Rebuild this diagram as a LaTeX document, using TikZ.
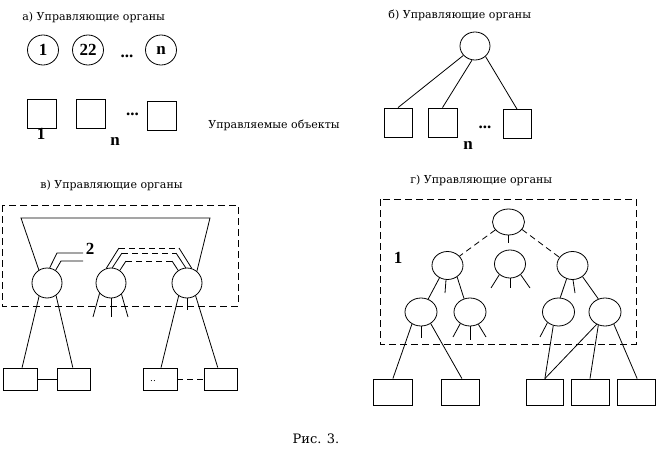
\documentclass[tikz,border=0pt]{standalone}
\usepackage{fontspec}
\setmainfont{DejaVu Serif}
\newfontfamily\labfont{Liberation Serif}
\usetikzlibrary{shapes.geometric,calc}
\begin{document}
\begin{tikzpicture}[x=1pt,y=-1pt,line width=0.8pt,
  org/.style={draw,ellipse,inner sep=0pt,minimum width=30,minimum height=28},
  obj/.style={draw,rectangle,inner sep=0pt},
  ttl/.style={anchor=west,inner sep=0pt,font=\fontsize{11}{13}\selectfont},
  lab/.style={inner sep=0pt,font=\labfont\bfseries\fontsize{17}{19}\selectfont},
  dbox/.style={draw,dash pattern=on 7pt off 4pt},
  dline/.style={dash pattern=on 6pt off 4pt}]
\useasboundingbox (0,0) rectangle (656,452);
% ---------- panel a
\node[ttl] (ta) at (22,17) {а) Управляющие органы};
\node[org,lab,minimum width=31,minimum height=30] (a1) at (43,50) {1};
\node[org,lab,minimum width=31,minimum height=30] (a2) at (88,50) {22};
\node[lab] (adots) at (127,56) {...};
\node[org,lab,minimum width=31,minimum height=30] (an) at (161,50) {n};
\node[obj,minimum width=29,minimum height=29] (s1) at (41.5,113.5) {};
\node[obj,minimum width=29,minimum height=29] (s2) at (91,113.5) {};
\node[obj,minimum width=29,minimum height=29] (s3) at (162,116) {};
\node[lab] (sdots) at (132.5,114) {...};
\node[lab] (sl1) at (41,134) {1};
\node[lab] (sln) at (115,141) {n};
\node[ttl] (uo) at (208,125) {Управляемые объекты};
% ---------- panel b
\node[ttl] (tb) at (388,15) {б) Управляющие органы};
\node[org] (b0) at (475,46) {};
\node[obj,minimum width=28,minimum height=29] (b1) at (398,122.5) {};
\node[obj,minimum width=29,minimum height=29] (b2) at (442.5,122.5) {};
\node[obj,minimum width=28,minimum height=29] (b3) at (517,124) {};
\node[lab] (bdots) at (485,127) {...};
\node[lab] (bn) at (468,145) {n};
\draw (b0.219) -- (b1.north);
\draw (b0.258) -- (b2.north);
\draw (b0.315) -- (b3.north);
% ---------- panel v
\node[ttl] (tv) at (40,185) {в) Управляющие органы};
\draw[dbox] (2,205) rectangle (238,306);
\node[org,minimum width=30,minimum height=30] (vL) at (47,283) {};
\node[org,minimum width=30,minimum height=30] (vM) at (111,283) {};
\node[org,minimum width=30,minimum height=30] (vR) at (187,283) {};
\coordinate (tl) at (21,218);
\coordinate (tr) at (210,218);
\draw (vL.122) -- (tl) -- (tr) -- (vR.50);
\coordinate (p1) at (57,253); \coordinate (p2) at (83,253);
\coordinate (p3) at (61,261); \coordinate (p4) at (83,261);
\draw (vL.80) -- (p1) -- (p2);
\draw (vL.56) -- (p3) -- (p4);
\node[lab] (n2) at (90,249) {2};
\coordinate (o1) at (119,248); \coordinate (o2) at (179,248);
\coordinate (m1) at (122,253); \coordinate (m2) at (176,253);
\coordinate (i1) at (126,261); \coordinate (i2) at (172,261);
\draw (vM.108) -- (o1); \draw[dline] (o1) -- (o2); \draw (o2) -- (vR.72);
\draw (vM.85) -- (m1); \draw[dline] (m1) -- (m2); \draw (m2) -- (vR.95);
\draw (vM.55) -- (i1); \draw[dline] (i1) -- (i2); \draw (i2) -- (vR.125);
\coordinate (ms1) at (93,317); \coordinate (ms2) at (111,317); \coordinate (ms3) at (128,317);
\draw (vM.222) -- (ms1);
\draw (vM.270) -- (ms2);
\draw (vM.313) -- (ms3);
\coordinate (rs) at (187,310);
\draw (vR.270) -- (rs);
\node[obj,minimum width=34,minimum height=22] (v1) at (20,379) {};
\node[obj,minimum width=33,minimum height=22] (v2) at (73.5,379) {};
\node[obj,minimum width=34,minimum height=22] (v3) at (160,379) {};
\node[obj,minimum width=33,minimum height=22] (v4) at (220.5,379) {};
\node[inner sep=0pt,font=\fontsize{9}{10}\selectfont] (v3t) at (153,381) {..};
\draw (v1) -- (v2);
\draw[dline] (v3) -- (v4);
\draw (vL.239) -- ($(v1.north west)!0.56!(v1.north east)$);
\draw (vL.306) -- ($(v2.north west)!0.48!(v2.north east)$);
\draw (vR.237) -- ($(v3.north west)!0.53!(v3.north east)$);
\draw (vR.304) -- ($(v4.north west)!0.42!(v4.north east)$);
% ---------- panel g
\node[ttl] (tg) at (410,180) {г) Управляющие органы};
\draw[dbox] (380,199) rectangle (636,344);
\node[lab] (n1) at (398,258) {1};
\node[org,minimum width=32,minimum height=26] (g0) at (508.5,222) {};
\node[org,minimum width=31,minimum height=28] (gA) at (447.5,265.5) {};
\node[org,minimum width=31,minimum height=28] (gB) at (510,264) {};
\node[org,minimum width=31,minimum height=28] (gC) at (572.5,265.5) {};
\node[org,minimum width=32,minimum height=28] (gD) at (421,312) {};
\node[org,minimum width=32,minimum height=28] (gE) at (470,312) {};
\node[org,minimum width=32,minimum height=28] (gF) at (558.5,312) {};
\node[org,minimum width=32,minimum height=28] (gG) at (605,312) {};
\draw[dline] (g0.211) -- (gA.38);
\draw[dline] (g0.331) -- (gC.148);
\coordinate (g0s) at (508.5,243);
\draw (g0.270) -- (g0s);
\coordinate (bs1) at (491,288); \coordinate (bs2) at (510,288); \coordinate (bs3) at (530,288);
\draw (gB.225) -- (bs1); \draw (gB.270) -- (bs2); \draw (gB.315) -- (bs3);
\coordinate (as) at (445,293);
\draw (gA.237) -- (gD.61); \draw (gA.310) -- (gE.114); \draw (gA.264) -- (as);
\coordinate (cs) at (575,293);
\draw (gC.246) -- (gF.83); \draw (gC.312) -- (gG.117); \draw (gC.272) -- (cs);
\node[obj,minimum width=39,minimum height=26] (k1) at (392.5,392) {};
\node[obj,minimum width=38,minimum height=26] (k2) at (460,392) {};
\node[obj,minimum width=37,minimum height=26] (k3) at (544.5,392) {};
\node[obj,minimum width=38,minimum height=26] (k4) at (590,392) {};
\node[obj,minimum width=38,minimum height=26] (k5) at (636,392) {};
\coordinate (ds) at (421,338);
\draw (gD.270) -- (ds);
\draw (gD.233) -- ($(k1.north west)!0.51!(k1.north east)$);
\draw (gD.310) -- ($(k2.north west)!0.55!(k2.north east)$);
\coordinate (es1) at (453,337); \coordinate (es2) at (470,340); \coordinate (es3) at (486,337);
\draw (gE.230) -- (es1); \draw (gE.270) -- (es2); \draw (gE.304) -- (es3);
\coordinate (fs) at (540,337);
\draw (gF.224) -- (fs);
\draw (gF.249) -- ($(k3.north west)!0.51!(k3.north east)$);
\draw (gG.236) -- ($(k3.north west)!0.51!(k3.north east)$);
\draw (gG.243) -- ($(k4.north west)!0.5!(k4.north east)$);
\draw (gG.306) -- ($(k5.north west)!0.53!(k5.north east)$);
% ---------- caption
\node[inner sep=0pt,font=\fontsize{13}{15}\selectfont] (cap) at (316,439) {Рис. 3.};
\end{tikzpicture}
\end{document}
